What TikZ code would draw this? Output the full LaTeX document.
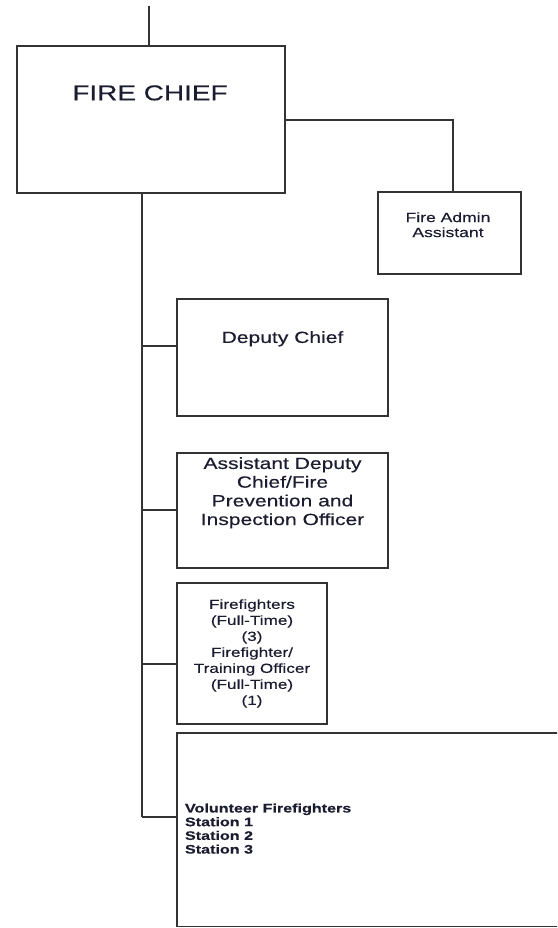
\documentclass[tikz,border=0pt]{standalone}
\usepackage{fontspec}
\setmainfont{Liberation Sans}
\newfontfamily\widefont{Liberation Sans}[FakeStretch=1.3,FakeBold=0.3]
\begin{document}
\begin{tikzpicture}[x=1pt,y=-1pt,
  box/.style={draw=linegray, line width=1.6pt, inner sep=0pt, outer sep=0pt, fill=white},
  wire/.style={draw=linegray, line width=1.6pt},
  label/.style={inner sep=0pt, outer sep=0pt, text=inkblue},
  fsize/.style 2 args={font={\widefont\fontsize{#1}{#2}\selectfont}}]
\definecolor{linegray}{HTML}{333333}
\definecolor{inkblue}{HTML}{1C1C30}
\useasboundingbox (0,0) rectangle (557,928);
\clip (0,0) rectangle (557,928);
\fill[white] (0,0) rectangle (557,928);

% boxes
\node[box, minimum width=268.3pt, minimum height=147pt] (fc) at (150.85,119.5) {};
\node[box, minimum width=143pt, minimum height=82pt] (admin) at (449.5,233) {};
\node[box, minimum width=211pt, minimum height=117pt] (deputy) at (282.5,357.5) {};
\node[box, minimum width=211pt, minimum height=115pt] (asst) at (282.5,510.5) {};
\node[box, minimum width=150pt, minimum height=141pt] (ff) at (252,653.5) {};
\node[box, minimum width=393pt, minimum height=193.5pt] (vol) at (373.5,829.75) {};

% box texts
\node[label, fsize={21.5}{25}, anchor=north] (fcT) at (150,85.3) {FIRE CHIEF};
\node[label, fsize={13.5}{15}, anchor=north, align=center] (adminT) at (448,212.3)
  {Fire Admin\\Assistant};
\node[label, fsize={16.2}{18.7}, anchor=north] (deputyT) at (282.5,331.2) {Deputy Chief};
\node[label, fsize={16.2}{18.7}, anchor=north, align=center] (asstT) at (282.5,457.2)
  {Assistant Deputy\\Chief/Fire\\Prevention and\\Inspection Officer};
\node[label, fsize={13.2}{16}, anchor=north, align=center] (ffT) at (252,599.3)
  {Firefighters\\(Full-Time)\\(3)\\Firefighter/\\Training Officer\\(Full-Time)\\(1)};
\node[label, font={\widefont\fontsize{12.4}{13.7}\selectfont\bfseries}, anchor=north west, align=left] (volT) at (185,803.5)
  {Volunteer Firefighters\\Station 1\\Station 2\\Station 3};

% connectors
\coordinate (top) at (149,6);
\coordinate (adminrow) at (0,120);
\coordinate (tk) at (142,0);
\coordinate (b1) at (142,346);
\coordinate (b2) at (142,510);
\coordinate (b3) at (142,664);
\coordinate (b4) at (142,817);

\draw[wire] (top) -- (top |- fc.north);
\draw[wire] (fc.east |- adminrow) -| ([xshift=3.5pt]admin.north);
\draw[wire] (tk |- fc.south) -- (b4);
\draw[wire] (b1) -- (b1 -| deputy.west);
\draw[wire] (b2) -- (b2 -| asst.west);
\draw[wire] (b3) -- (b3 -| ff.west);
\draw[wire] (b4) -- (b4 -| vol.west);
\end{tikzpicture}
\end{document}
